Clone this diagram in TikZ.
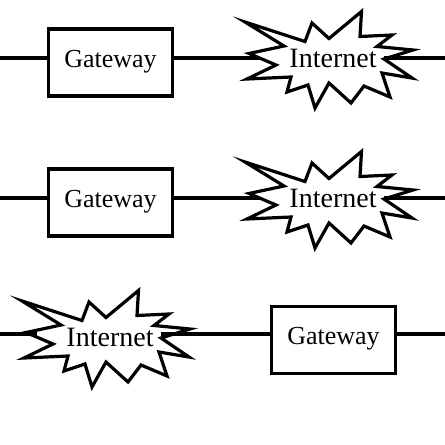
\documentclass[tikz,border=0pt]{standalone}
\usepackage{fontspec}
\setmainfont{Liberation Serif}
\newcommand\starburst[1]{%
  \draw[burstline,shift={(#1.center)}]
    (-88,-38) -- (-28,-18.5) -- (-21,-37) -- (-4,-21.5) -- (28.5,-48.5) -- (27,-23.5)
    -- (59,-25) -- (44,-13.5) -- (80,-10) -- (51,-1) -- (79,18) -- (49,13)
    -- (57,37) -- (31,26) -- (18,43) -- (-4,23) -- (-18,48) -- (-25,25)
    -- (-46,32) -- (-42,17) -- (-86,19) -- (-57,5) -- (-84,-6.5) -- (-49,-14) -- cycle;
  \path[shift={(#1.center)}] (-73,-2) coordinate (#1w) (51,-1) coordinate (#1e);
}
\begin{document}
\begin{tikzpicture}[x=1pt,y=-1pt,
  wire/.style={line width=3.2pt},
  gwbox/.style={draw,line width=3.2pt,minimum width=124pt,minimum height=67pt,inner sep=0pt,
    font=\fontsize{26}{30}\selectfont,text height=18pt,text depth=9pt},
  netlabel/.style={inner sep=0pt,font=\fontsize{28}{30}\selectfont,text height=18pt,text depth=3pt},
  burstline/.style={line width=3.2pt,line join=miter}]
\useasboundingbox (0,0) rectangle (445,445);

% Row 1
\coordinate (l1) at (0,58);
\coordinate (r1) at (445,58);
\node[gwbox] (g1) at (110.5,62.5) {Gateway};
\node[netlabel] (i1) at (333,60) {Internet};
\starburst{i1}
\draw[wire] (l1) -- (l1 -| g1.west);
\draw[wire] (g1.east |- l1) -- (i1w |- l1);
\draw[wire] (i1e |- r1) -- (r1);

% Row 2
\coordinate (l2) at (0,198);
\coordinate (r2) at (445,198);
\node[gwbox] (g2) at (110.5,202.5) {Gateway};
\node[netlabel] (i2) at (333,200) {Internet};
\starburst{i2}
\draw[wire] (l2) -- (l2 -| g2.west);
\draw[wire] (g2.east |- l2) -- (i2w |- l2);
\draw[wire] (i2e |- r2) -- (r2);

% Row 3
\coordinate (l3) at (0,334);
\coordinate (r3) at (445,334);
\node[netlabel] (i3) at (110,339) {Internet};
\starburst{i3}
\node[gwbox] (g3) at (333.5,340) {Gateway};
\draw[wire] (l3) -- (i3w |- l3);
\draw[wire] (i3e |- l3) -- (l3 -| g3.west);
\draw[wire] (g3.east |- r3) -- (r3);
\end{tikzpicture}
\end{document}
